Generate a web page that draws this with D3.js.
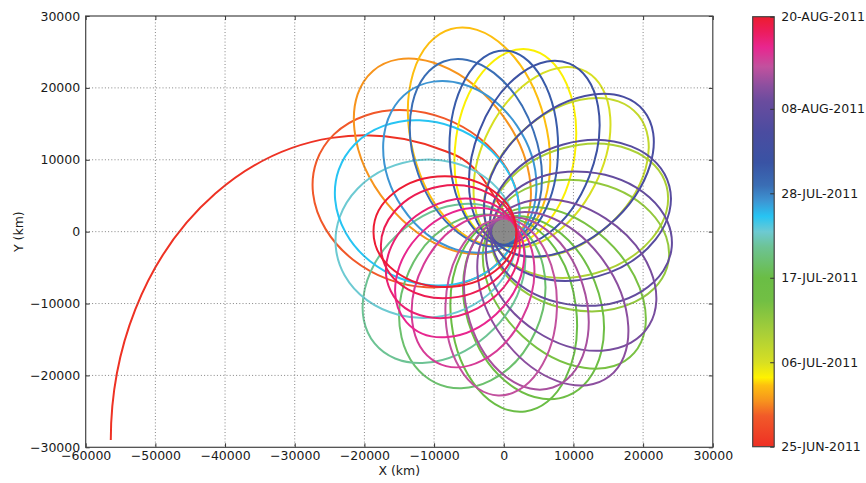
<!DOCTYPE html>
<html><head><meta charset="utf-8">
<script src="https://cdn.jsdelivr.net/npm/d3@7"></script>
<style>
body{margin:0;background:#fff;}
svg text{font-family:"DejaVu Sans",sans-serif;fill:#1a1a1a;}
</style></head><body>
<svg id="chart" width="866" height="483"></svg>
<script>
// Colour scale along the mission timeline (days after 25-Jun-2011)
const cmapDays   = [0, 4, 6, 8, 9, 11, 15, 19, 22, 26, 28, 30, 32, 34, 37, 41, 45, 47, 49.5, 52, 54, 56];
const cmapColors = ["#ee2f24","#f15a29","#f7941d","#fdc00f","#fff200","#d7df23","#a6ce39","#72bf44","#6abd45","#6dc394","#6dcad2","#27c4f3","#3d95d3","#3a6eb5","#3953a4","#4b4ca0","#6a4c9e","#8c4f9f","#c2519e","#e8268f","#ec1c5e","#ed1c2e"];

// Approach leg: elliptical arc (centre, radii in km; start/end parameter angles in deg)
const approachArc = {cx: -20000, cy: -29000, rx: 36400, ry: 42400, t0: 180, t1: 72};
// final descent towards the body after the arc (km)
const descentX = [-8750, -6000, -3500, -1300, 800];
const descentY = [11330, 10150, 8000, 4800, 1500];

// Orbit loops: day of loop, ellipse centre (km), semi-axes (km), tilt of major axis (deg)
const loopDay = [3.8, 6, 7.9, 9.2, 11, 12.6, 14.5, 16.5, 18.5, 20.5, 22, 24, 26, 28, 30, 32, 34, 36, 37.8, 40.5, 42.5, 44.2, 45.8, 47, 48.3, 49.5, 50.8, 52, 53.2, 54.5, 55.8];
const loopCx  = [-12590,-8810,-3550,1660,5490,8960,10820,10930,8690,4270,1430,-4520,-8580,-11160,-10990,-6310,-4000,0,4380,9350,11010,11160,9670,7040,3240,-370,-4410,-6320,-7310,-7880,-8450];
const loopCy  = [4580,10490,13230,11780,10330,7520,2900,-1930,-7830,-10570,-11610,-9700,-7200,-980,4000,9010,10990,11700,10850,7840,2950,-980,-6040,-9340,-9990,-10490,-8300,-5690,-3720,-1390,0];
const loopA   = [15200,15500,15500,13700,13500,13500,13000,12900,13500,13200,13500,12500,13000,13000,13500,12800,13500,13500,13500,14000,13200,13000,13200,13500,12300,12300,11200,10300,10000,9800,10250];
const loopB   = [11900,10300,9700,8600,8500,9000,9000,9000,9000,9500,9000,10000,9500,11000,11200,10000,8800,7800,8500,9000,9500,9300,9300,9000,8500,8000,8000,7800,7800,7800,7700];
const loopTilt= [160,130,105,82,62,40,15,-10,-42,-68,-83,-115,-140,185,160,125,110,90,68,40,15,-5,-32,-53,-72,-92,-118,-138,-153,-170,180];

const bodyRadius = 1900;
const xTicks = [-60000,-50000,-40000,-30000,-20000,-10000,0,10000,20000,30000];
const yTicks = [-30000,-20000,-10000,0,10000,20000,30000];
const cbarDays = [0, 11, 22, 33, 44, 56];
const cbarLabels = ["25-JUN-2011","06-JUL-2011","17-JUL-2011","28-JUL-2011","08-AUG-2011","20-AUG-2011"];

const svg = d3.select("#chart");
const L = 85.7, R = 712.8, T = 16, B = 447.3;
const x = d3.scaleLinear().domain([-60000, 30000]).range([L, R]);
const y = d3.scaleLinear().domain([-30000, 30000]).range([B, T]);
const cmap = d3.scaleLinear().domain(cmapDays).range(cmapColors).interpolate(d3.interpolateRgb);
const fmt = d3.format("d");
const LW = 2;

svg.append("defs").append("clipPath").attr("id","plotclip")
  .append("rect").attr("x",L).attr("y",T).attr("width",R-L).attr("height",B-T);

const plot = svg.append("g").attr("clip-path","url(#plotclip)");

// central body
plot.append("ellipse")
  .attr("cx", x(0)).attr("cy", y(0))
  .attr("rx", x(bodyRadius)-x(0)).attr("ry", y(0)-y(bodyRadius))
  .attr("fill","#8a8a8a");

// trajectory drawn in km inside a frame scaled by the axes
const kx = x(1)-x(0), ky = y(0)-y(1);
const orbitG = plot.append("g")
  .attr("transform", `translate(${x(0)},${y(0)}) scale(${kx},${-ky})`);

// approach leg: elliptical arc then descent
const A = approachArc, rad = Math.PI/180;
const p0 = [A.cx + A.rx*Math.cos(A.t0*rad), A.cy + A.ry*Math.sin(A.t0*rad)];
const p1 = [A.cx + A.rx*Math.cos(A.t1*rad), A.cy + A.ry*Math.sin(A.t1*rad)];
const descent = d3.line().curve(d3.curveCatmullRom)(descentX.map((v,i)=>[v, descentY[i]]));
orbitG.append("path")
  .attr("d", `M${p0[0]},${p0[1]} A${A.rx},${A.ry} 0 0 0 ${p1[0]},${p1[1]}` + descent.replace(/^M[^CLQ]*/, ""))
  .attr("fill","none").attr("stroke", cmap(0.3))
  .attr("stroke-width",LW).attr("vector-effect","non-scaling-stroke");

orbitG.selectAll("ellipse.loop")
  .data(loopDay.map((d,i)=>({d, cx:loopCx[i], cy:loopCy[i], a:loopA[i], b:loopB[i], t:loopTilt[i]})))
  .join("ellipse").attr("class","loop")
  .attr("cx", d=>d.cx).attr("cy", d=>d.cy)
  .attr("rx", d=>d.a).attr("ry", d=>d.b)
  .attr("transform", d=>`rotate(${d.t},${d.cx},${d.cy})`)
  .attr("fill","none").attr("stroke", d=>cmap(d.d))
  .attr("stroke-width",LW).attr("vector-effect","non-scaling-stroke");

// dotted grid
const grid = svg.append("g").attr("stroke","#666").attr("stroke-width",0.8).attr("stroke-dasharray","1,2.2");
xTicks.slice(1,-1).forEach(v=>grid.append("line").attr("x1",x(v)).attr("x2",x(v)).attr("y1",T).attr("y2",B));
yTicks.slice(1,-1).forEach(v=>grid.append("line").attr("y1",y(v)).attr("y2",y(v)).attr("x1",L).attr("x2",R));

// axes with inward ticks on all sides
const ax = svg.append("g");
ax.append("g").attr("transform",`translate(0,${B})`).call(d3.axisBottom(x).tickValues(xTicks).tickFormat(fmt).tickSizeInner(-4).tickSizeOuter(0).tickPadding(3.5));
ax.append("g").attr("transform",`translate(0,${T})`).call(d3.axisTop(x).tickValues(xTicks).tickFormat("").tickSizeInner(-4).tickSizeOuter(0));
ax.append("g").attr("transform",`translate(${L},0)`).call(d3.axisLeft(y).tickValues(yTicks).tickFormat(fmt).tickSizeInner(-4).tickSizeOuter(0).tickPadding(5.5));
ax.append("g").attr("transform",`translate(${R},0)`).call(d3.axisRight(y).tickValues(yTicks).tickFormat("").tickSizeInner(-4).tickSizeOuter(0));
ax.selectAll(".domain").remove();
ax.selectAll(".tick line").attr("stroke","#333");
ax.selectAll(".tick text").attr("font-size",12.5).attr("fill","#1a1a1a").attr("font-family","DejaVu Sans");
svg.append("rect").attr("x",L).attr("y",T).attr("width",R-L).attr("height",B-T)
  .attr("fill","none").attr("stroke","#444").attr("stroke-width",1.2);

svg.append("text").attr("x",(L+R)/2).attr("y",475).attr("text-anchor","middle").attr("font-size",12.5).text("X (km)");
svg.append("text").attr("transform",`translate(22.5,${(T+B)/2}) rotate(-90)`).attr("text-anchor","middle").attr("font-size",12.5).text("Y (km)");

// colour bar
const CL = 752.7, CW = 21.5;
const cy = d3.scaleLinear().domain([0,56]).range([B-0.6, T+0.7]);
const grad = svg.select("defs").append("linearGradient").attr("id","cbar")
  .attr("x1",0).attr("y1",1).attr("x2",0).attr("y2",0);
cmapDays.forEach((d,i)=>grad.append("stop").attr("offset", d/56).attr("stop-color", cmapColors[i]));
svg.append("rect").attr("x",CL).attr("y",cy(56)).attr("width",CW).attr("height",cy(0)-cy(56))
  .attr("fill","url(#cbar)").attr("stroke","#444").attr("stroke-width",1.2);
const cb = svg.append("g").attr("transform",`translate(${CL+CW},0)`)
  .call(d3.axisRight(cy).tickValues(cbarDays).tickFormat((d,i)=>cbarLabels[i]).tickSizeInner(-4).tickSizeOuter(0).tickPadding(7));
cb.select(".domain").remove();
cb.selectAll(".tick line").attr("stroke","#333");
cb.selectAll(".tick text").attr("font-size",12.5).attr("fill","#1a1a1a").attr("font-family","DejaVu Sans");
</script>
</body></html>
